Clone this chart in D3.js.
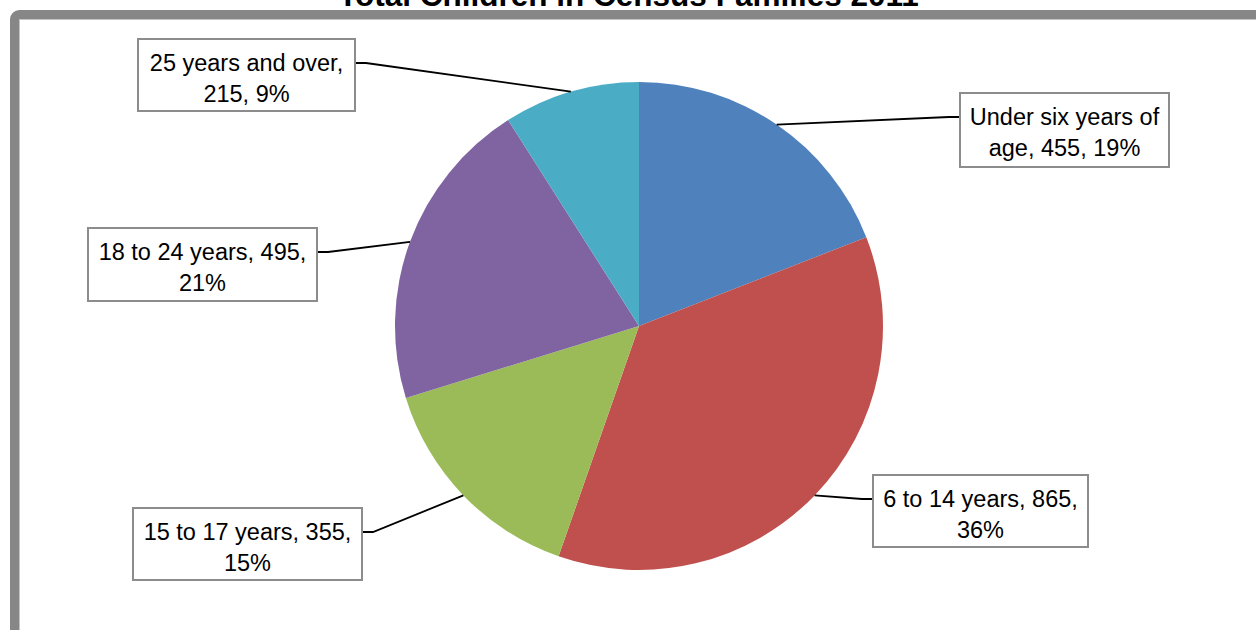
<!DOCTYPE html>
<html>
<head>
<meta charset="utf-8">
<script src="https://cdn.jsdelivr.net/npm/d3@7"></script>
<style>
  html, body { margin: 0; padding: 0; background: #fff; }
  svg { display: block; }
</style>
</head>
<body>
<svg id="chart" width="1256" height="630"></svg>
<script>
// ---- data ----
const title = "Total Children in Census Families 2011";
const categories = ["Under six years of age", "6 to 14 years", "15 to 17 years", "18 to 24 years", "25 years and over"];
const values = [455, 865, 355, 495, 215];
const percents = ["19%", "36%", "15%", "21%", "9%"];
const colors = ["#4F81BD", "#C0504D", "#9BBB59", "#8064A2", "#4BACC6"];
// label text split into two lines (as wrapped in the reference)
const labelLines = [
  ["Under six years of", "age, 455, 19%"],
  ["6 to 14 years, 865,", "36%"],
  ["15 to 17 years, 355,", "15%"],
  ["18 to 24 years, 495,", "21%"],
  ["25 years and over,", "215, 9%"]
];

// ---- layout (not data) ----
const W = 1256, H = 630;
const cx = 639, cy = 326, R = 244;
const boxes = [ // x, y, w, h, side where leader attaches
  {x: 960, y: 93, w: 209, h: 74, side: "left"},
  {x: 873, y: 475, w: 215, h: 72, side: "left"},
  {x: 133, y: 508, w: 229, h: 72, side: "right"},
  {x: 88, y: 228, w: 229, h: 73, side: "right"},
  {x: 138, y: 39, w: 217, h: 72, side: "right"}
];

const svg = d3.select("#chart");

// frame
svg.append("rect")
  .attr("x", 14.5).attr("y", 14.5)
  .attr("width", W + 40).attr("height", H + 40)
  .attr("rx", 5).attr("ry", 5)
  .attr("fill", "none").attr("stroke", "#878787").attr("stroke-width", 9);
svg.append("rect")
  .attr("x", 19.5).attr("y", 19.5)
  .attr("width", W + 40).attr("height", H + 40)
  .attr("fill", "none").attr("stroke", "#c4c4c4").attr("stroke-width", 1);

// title
svg.append("text")
  .attr("x", 628.5).attr("y", 5.5)
  .attr("text-anchor", "middle")
  .attr("font-family", "Liberation Sans, Arial, sans-serif")
  .attr("font-weight", "bold")
  .attr("font-size", 31.5)
  .attr("fill", "#000")
  .text(title);

// pie
const pie = d3.pie().sort(null).value(d => d)(values);
const arc = d3.arc().innerRadius(0).outerRadius(R);
const g = svg.append("g").attr("transform", `translate(${cx},${cy})`);
g.selectAll("path.slice").data(pie).join("path")
  .attr("class", "slice")
  .attr("d", arc)
  .attr("fill", (d, i) => colors[i]);

// leader lines + labels
pie.forEach((d, i) => {
  const b = boxes[i];
  const mid = (d.startAngle + d.endAngle) / 2;
  const px = cx + R * Math.sin(mid);
  const py = cy - R * Math.cos(mid);
  const ay = b.y + 24;
  const ax = b.side === "left" ? b.x : b.x + b.w;
  const bx = b.side === "left" ? ax - 11 : ax + 11;
  svg.append("path")
    .attr("d", d3.line()([[ax, ay], [bx, ay], [px, py]]))
    .attr("fill", "none").attr("stroke", "#000").attr("stroke-width", 1.8);

  svg.append("rect")
    .attr("x", b.x).attr("y", b.y).attr("width", b.w).attr("height", b.h)
    .attr("fill", "#fff").attr("stroke", "#8c8c8c").attr("stroke-width", 2);

  const t = svg.append("text")
    .attr("text-anchor", "middle")
    .attr("font-family", "Liberation Sans, Arial, sans-serif")
    .attr("font-size", 23.5)
    .attr("fill", "#000");
  labelLines[i].forEach((ln, k) => {
    t.append("tspan")
      .attr("x", b.x + b.w / 2)
      .attr("y", b.y + 32 + k * 31)
      .text(ln);
  });
});
</script>
</body>
</html>
